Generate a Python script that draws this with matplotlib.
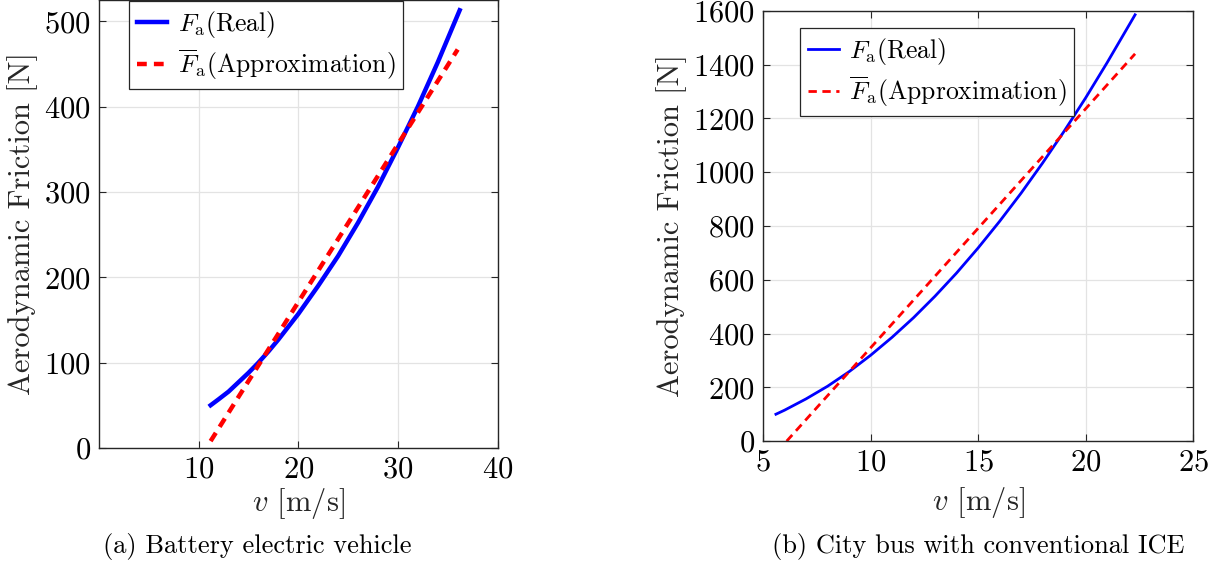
import numpy as np
import matplotlib
matplotlib.use("Agg")
import matplotlib.pyplot as plt

plt.rcParams['font.family'] = 'serif'
plt.rcParams['font.serif'] = ['cmr10']
plt.rcParams['mathtext.fontset'] = 'cm'
plt.rcParams['axes.formatter.use_mathtext'] = True

# (a) battery electric vehicle
v_bev = [11.2, 12, 13, 14, 15, 16, 17, 18, 20, 22, 24, 26, 28, 30, 32, 34, 36.2]
f_bev = [50, 57, 66, 77, 88, 100, 113, 127, 157, 190, 225, 264, 306, 352, 400, 452, 513]
v_bev_lin = [11.2, 36.0]
f_bev_lin = [8, 467]

# (b) city bus with conventional ICE
v_bus = [5.6, 6, 7, 8, 9, 10, 11, 12, 13, 14, 15, 16, 17, 18, 19, 20, 21, 22.3]
f_bus = [100, 115, 157, 204, 258, 319, 386, 459, 539, 625, 718, 817, 922, 1034, 1152, 1276, 1407, 1585]
v_bus_lin = [6.1, 22.3]
f_bus_lin = [0, 1440]

bev_xticks = [10, 20, 30, 40]
bev_yticks = [0, 100, 200, 300, 400, 500]
bus_xticks = [5, 10, 15, 20, 25]
bus_yticks = [0, 200, 400, 600, 800, 1000, 1200, 1400, 1600]

lbl_real = r'$F_{\mathrm{a}}(\mathrm{Real})$'
lbl_apx = r'$\overline{F}_{\mathrm{a}}(\mathrm{Approximation})$'


def style_axes(ax):
    ax.grid(True, color='#e3e3e3', linewidth=0.9)
    ax.set_axisbelow(True)
    ax.tick_params(direction='in', top=True, right=True, length=5,
                   labelsize=22, color='#262626', pad=6)
    for sp in ax.spines.values():
        sp.set_color('#262626')
        sp.set_linewidth(1.0)
    ax.set_ylabel('Aerodynamic Friction [N]', fontsize=22, color='#262626')
    ax.set_xlabel(r'$v$ [m/s]', fontsize=22, color='#262626')


def add_legend(ax, anchor):
    leg = ax.legend(loc='upper left', bbox_to_anchor=anchor, fontsize=18.5,
                    fancybox=False, framealpha=1, edgecolor='#262626',
                    handlelength=1.2, borderpad=0.3, labelspacing=0.3,
                    handletextpad=0.4, borderaxespad=0)
    leg.get_frame().set_linewidth(0.9)


fig = plt.figure(figsize=(12.15, 5.67), dpi=100)

ax1 = fig.add_axes([0.0815, 0.21, 0.328, 0.79])
ax1.plot(v_bev, f_bev, color='blue', linewidth=3.2, label=lbl_real)
ax1.plot(v_bev_lin, f_bev_lin, color='red', linewidth=3.2, linestyle=(0, (2.2, 1.6)), label=lbl_apx)
ax1.set_xlim(0, 40)
ax1.set_ylim(0, 525)
ax1.set_xticks(bev_xticks)
ax1.set_yticks(bev_yticks)
style_axes(ax1)
add_legend(ax1, (0.075, 0.998))
ax1.xaxis.labelpad = 2
ax1.yaxis.labelpad = 4

ax2 = fig.add_axes([0.628, 0.222, 0.354, 0.759])
ax2.plot(v_bus, f_bus, color='blue', linewidth=2.0, label=lbl_real)
ax2.plot(v_bus_lin, f_bus_lin, color='red', linewidth=2.0, linestyle=(0, (3, 2)), label=lbl_apx)
ax2.set_xlim(5, 25)
ax2.set_ylim(0, 1600)
ax2.set_xticks(bus_xticks)
ax2.set_yticks(bus_yticks)
style_axes(ax2)
add_legend(ax2, (0.086, 0.96))
ax2.xaxis.labelpad = 6
ax2.yaxis.labelpad = 4

fig.text(0.212, 0.025, '(a) Battery electric vehicle', ha='center', fontsize=19)
fig.text(0.805, 0.025, '(b) City bus with conventional ICE', ha='center', fontsize=19)

fig.savefig('out.png', dpi=100)
